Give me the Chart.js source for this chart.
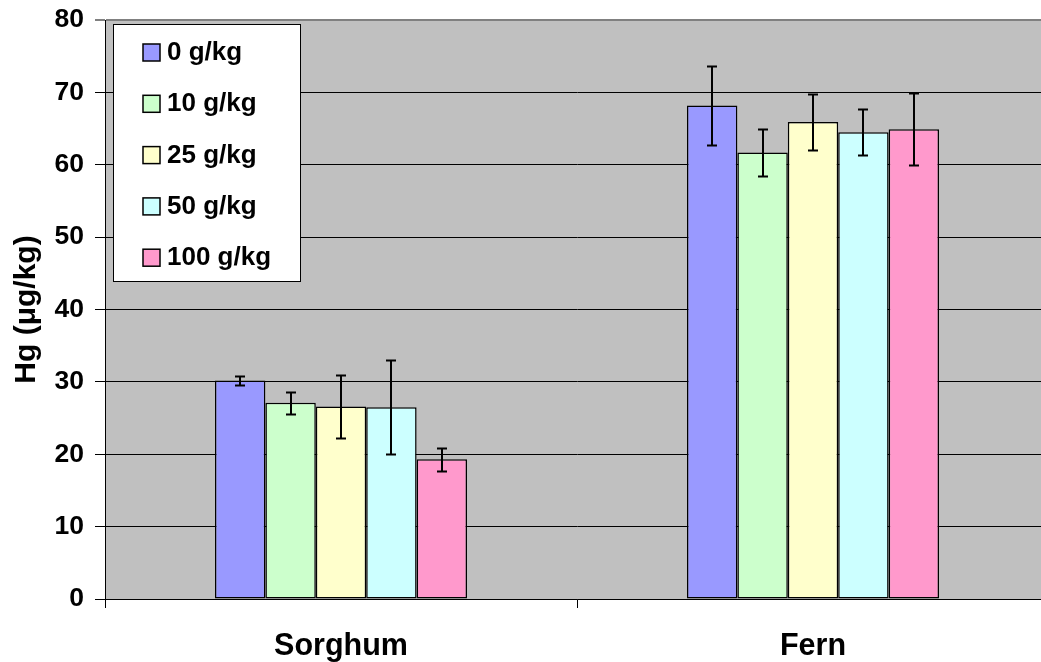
<!DOCTYPE html>
<html>
<head>
<meta charset="utf-8">
<script src="https://cdn.jsdelivr.net/npm/chart.js@4/dist/chart.umd.min.js"></script>
<style>
  html, body { margin: 0; padding: 0; background: #fff; overflow: hidden; }
  #wrap { width: 1049px; height: 662px; position: relative; }
</style>
</head>
<body>
<div id="wrap"><canvas id="myChart"></canvas></div>
<script>
let categories = ['Sorghum', 'Fern'];
let doseLabels = ['0 g/kg', '10 g/kg', '25 g/kg', '50 g/kg', '100 g/kg'];
let hg0 = [30.2, 68.2];
let hg10 = [27.1, 61.7];
let hg25 = [26.6, 65.9];
let hg50 = [26.5, 64.5];
let hg100 = [19.3, 64.9];
let err0 = [0.65, 5.5];
let err10 = [1.55, 3.25];
let err25 = [4.35, 3.9];
let err50 = [6.5, 3.15];
let err100 = [1.6, 5.0];
let colors = ['#9999FF', '#CCFFCC', '#FFFFCC', '#CCFFFF', '#FF99CC'];

let values = [hg0, hg10, hg25, hg50, hg100];
let errors = [err0, err10, err25, err50, err100];

const FONT = "'Liberation Sans', Arial, sans-serif";

// gray plot background
const plotBg = {
    id: 'plotBg',
    beforeDraw(chart) {
        let a = chart.chartArea, c = chart.ctx;
        c.save();
        c.fillStyle = '#C0C0C0';
        c.fillRect(a.left, a.top, a.right - a.left, a.bottom - a.top);
        c.restore();
    }
};

// error bars
const errorBars = {
    id: 'errorBars',
    afterDatasetsDraw(chart) {
        let c = chart.ctx, y = chart.scales.y;
        c.save();
        c.strokeStyle = '#000';
        c.lineWidth = 2;
        chart.data.datasets.forEach((ds, i) => {
            chart.getDatasetMeta(i).data.forEach((bar, j) => {
                let v = ds.data[j], e = errors[i][j];
                let top = Math.round(y.getPixelForValue(v + e)) + 0.5;
                let bot = Math.round(y.getPixelForValue(v - e)) + 0.5;
                let x = Math.round(bar.x);
                c.beginPath();
                c.moveTo(x, top); c.lineTo(x, bot);
                c.moveTo(x - 5, top); c.lineTo(x + 5, top);
                c.moveTo(x - 5, bot); c.lineTo(x + 5, bot);
                c.stroke();
            });
        });
        c.restore();
    }
};

// legend box inside the plot
const boxLegend = {
    id: 'boxLegend',
    afterDraw(chart) {
        let c = chart.ctx;
        c.save();
        c.fillStyle = '#fff';
        c.fillRect(113, 24, 187, 257);
        c.strokeStyle = '#000';
        c.lineWidth = 1;
        c.strokeRect(113.5, 24.5, 187, 257);
        c.font = 'bold 26px ' + FONT;
        c.textBaseline = 'middle';
        chart.data.datasets.forEach((ds, i) => {
            let cy = 52 + i * 51.3;
            c.fillStyle = ds.backgroundColor;
            c.fillRect(143, cy - 8, 17, 17);
            c.strokeStyle = '#000';
            c.lineWidth = 1.5;
            c.strokeRect(143, cy - 8, 17, 17);
            c.fillStyle = '#000';
            c.fillText(ds.label, 167, cy + 1);
        });
        c.restore();
    }
};

let ctx = document.getElementById('myChart');
let myChart = new Chart(ctx, {
    type: 'bar',
    data: {
        labels: categories,
        datasets: doseLabels.map((l, i) => ({
            label: l,
            data: values[i],
            backgroundColor: colors[i],
            borderColor: '#000',
            borderWidth: 1.5,
            borderSkipped: false,
            categoryPercentage: 0.534,
            barPercentage: 1.0
        }))
    },
    options: {
        responsive: true,
        maintainAspectRatio: false,
        animation: false,
        layout: { padding: { top: 20, left: 0, right: 0, bottom: 0 } },
        plugins: {
            legend: { display: false },
            tooltip: { enabled: false }
        },
        scales: {
            x: {
                grid: { drawOnChartArea: false, drawTicks: true, tickLength: 9, color: '#000', offset: true },
                border: { color: '#000', width: 1 },
                ticks: { color: '#000', padding: 20, font: { family: FONT, size: 30.5, weight: 'bold' } },
                afterFit(s) { s.height = 63; s.paddingLeft = 0; s.paddingRight = 0; }
            },
            y: {
                min: 0,
                max: 80,
                ticks: { stepSize: 10, color: '#000', padding: 11, font: { family: FONT, size: 26.5, weight: 'bold' } },
                grid: {
                    color: (c) => c.tick && c.tick.value === 80 ? '#808080' : '#000',
                    lineWidth: (c) => c.tick && c.tick.value === 80 ? 2 : 1,
                    tickLength: 10
                },
                border: { color: '#000', width: 1 },
                title: {
                    display: true,
                    text: 'Hg (μg/kg)',
                    color: '#000',
                    padding: { top: 9, bottom: 0 },
                    font: { family: FONT, size: 30, weight: 'bold' }
                },
                afterFit(s) { s.width = 105; s.paddingTop = 0; s.paddingBottom = 0; }
            }
        }
    },
    plugins: [plotBg, errorBars, boxLegend]
});
</script>
</body>
</html>
